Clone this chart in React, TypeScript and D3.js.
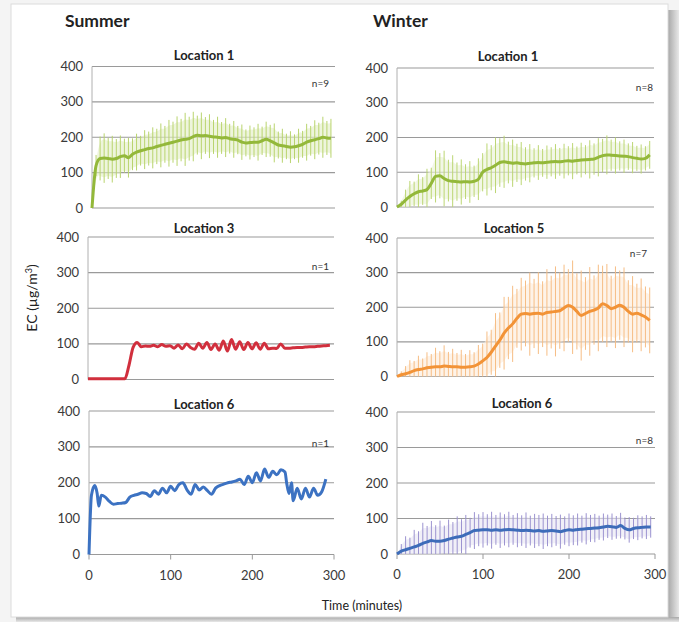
import React from "react";
import * as d3 from "d3";

// ---------- DATA ----------
const T = [0, 5, 10, 15, 20, 25, 30, 35, 40, 45, 50, 55, 60, 65, 70, 75, 80, 85, 90, 95,
  100, 105, 110, 115, 120, 125, 130, 135, 140, 145, 150, 155, 160, 165, 170, 175, 180, 185, 190, 195,
  200, 205, 210, 215, 220, 225, 230, 235, 240, 245, 250, 255, 260, 265, 270, 275, 280, 285, 290, 295];

const summerL1Mean = [0, 120, 140, 141, 140, 138, 140, 145, 148, 142, 152, 158, 162, 165, 168, 170, 174, 177, 180, 183,
  186, 189, 192, 194, 196, 202, 206, 204, 205, 203, 201, 200, 198, 199, 196, 194, 192, 186, 184, 185,
  186, 186, 190, 194, 190, 184, 178, 176, 174, 172, 173, 176, 180, 186, 190, 193, 196, 200, 198, 197];
const summerL1Err = [0, 30, 62, 70, 58, 66, 55, 60, 48, 56, 45, 52, 42, 55, 48, 58, 50, 62, 52, 66,
  58, 70, 60, 75, 62, 70, 55, 66, 52, 62, 48, 58, 45, 55, 42, 52, 40, 50, 38, 48,
  42, 52, 40, 50, 45, 55, 38, 48, 36, 45, 35, 48, 38, 52, 42, 55, 45, 58, 48, 55];

const winterL1Mean = [0, 8, 20, 30, 38, 44, 46, 50, 68, 88, 90, 82, 76, 74, 73, 72, 73, 72, 74, 80,
  100, 108, 113, 120, 128, 130, 128, 126, 127, 125, 124, 126, 127, 128, 127, 129, 130, 131, 130, 132,
  133, 132, 134, 135, 136, 137, 138, 143, 148, 150, 149, 148, 147, 146, 145, 142, 140, 138, 140, 150];
const winterL1Err = [0, 10, 30, 45, 35, 50, 40, 60, 45, 75, 65, 80, 60, 75, 55, 65, 50, 60, 45, 60,
  55, 75, 65, 80, 70, 75, 60, 68, 55, 62, 48, 55, 42, 50, 40, 48, 42, 50, 40, 50,
  42, 52, 40, 50, 42, 55, 45, 55, 48, 56, 45, 52, 42, 48, 38, 45, 36, 42, 35, 40];

const summerL3Values = [2, 2, 2, 2, 2, 2, 2, 2, 2, 2, 40, 90, 104, 92, 94, 93, 96, 92, 98, 93,
  95, 88, 97, 86, 100, 90, 85, 102, 88, 104, 84, 100, 82, 108, 80, 112, 85, 106, 84, 104,
  86, 103, 85, 102, 86, 88, 87, 100, 88, 88, 89, 90, 90, 91, 92, 92, 93, 94, 95, 96];

const winterL5Mean = [0, 5, 8, 12, 17, 20, 22, 25, 27, 28, 28, 30, 29, 28, 28, 27, 27, 28, 30, 36,
  45, 55, 70, 88, 105, 125, 140, 152, 168, 180, 182, 180, 182, 183, 180, 185, 186, 188, 190, 198,
  205, 200, 188, 176, 182, 188, 192, 198, 210, 205, 196, 200, 206, 200, 188, 180, 183, 178, 172, 162];
const winterL5Err = [0, 10, 22, 35, 28, 40, 30, 45, 38, 55, 45, 60, 42, 52, 40, 50, 38, 48, 40, 55,
  50, 75, 65, 95, 80, 105, 90, 110, 85, 105, 95, 120, 100, 118, 95, 125, 105, 130, 110, 125,
  105, 135, 110, 130, 105, 128, 100, 125, 110, 120, 95, 118, 100, 115, 90, 110, 85, 105, 88, 95];

const summerL6Time = [0, 3, 7, 10, 12, 15, 20, 25, 30, 35, 40, 45, 50, 55, 60, 65, 70, 75, 80, 85,
  90, 95, 100, 105, 110, 115, 120, 125, 130, 135, 140, 145, 150, 155, 160, 165, 170, 175, 180, 185,
  190, 195, 200, 205, 210, 215, 220, 225, 230, 235, 240, 242, 245, 248, 250, 255, 260, 265, 270, 275,
  280, 285, 290];
const summerL6Values = [0, 165, 192, 170, 135, 165, 160, 148, 140, 142, 143, 145, 160, 165, 168, 172, 170, 162, 178, 168,
  185, 172, 190, 178, 195, 200, 180, 168, 195, 180, 188, 178, 168, 185, 192, 196, 200, 202, 205, 210,
  195, 218, 200, 228, 205, 238, 215, 232, 222, 236, 230, 200, 170, 200, 150, 185, 155, 185, 160, 185,
  165, 175, 210];

const winterL6Mean = [0, 8, 12, 16, 20, 24, 30, 34, 38, 36, 36, 38, 42, 45, 48, 50, 55, 60, 66, 67,
  68, 68, 67, 68, 67, 68, 69, 68, 67, 66, 67, 66, 65, 66, 64, 65, 66, 65, 63, 66,
  68, 67, 69, 70, 71, 72, 73, 74, 76, 78, 77, 75, 80, 72, 68, 72, 74, 75, 76, 76];
const winterL6Err = [0, 20, 38, 30, 48, 40, 58, 45, 55, 45, 58, 42, 55, 45, 58, 48, 55, 42, 52, 45,
  50, 44, 52, 42, 50, 44, 50, 42, 48, 43, 50, 42, 48, 44, 50, 43, 47, 42, 48, 40,
  46, 42, 45, 38, 44, 38, 40, 34, 38, 33, 37, 32, 36, 31, 36, 30, 35, 31, 34, 30];

const yTicks = [0, 100, 200, 300, 400];
const xTicks = [0, 100, 200, 300];
const seasonLabels = ["Summer", "Winter"];

// ---------- LAYOUT ----------
const FONT = "Lato, 'Open Sans', 'DejaVu Sans', sans-serif";

type Panel = {
  title: string; n: string; x0: number; x1: number; yTop: number; yBot: number;
  time: number[]; mean: number[]; err?: number[];
  line: string; errColor?: string; band?: string; titleX: number; titleY: number;
  nX: number; nY: number; xAxis: boolean;
};

const panels: Panel[] = [
  { title: "Location 1", n: "n=9", x0: 92, x1: 335, yTop: 66.5, yBot: 208, time: T, mean: summerL1Mean, err: summerL1Err,
    line: "#93B83A", errColor: "#B9D46E", band: "#E2EEC4", titleX: 204, titleY: 60, nX: 329, nY: 87, xAxis: false },
  { title: "Location 1", n: "n=8", x0: 397, x1: 654, yTop: 68, yBot: 207, time: T, mean: winterL1Mean, err: winterL1Err,
    line: "#93B83A", errColor: "#BCD673", band: "#EAF2D6", titleX: 508, titleY: 61, nX: 653, nY: 91, xAxis: false },
  { title: "Location 3", n: "n=1", x0: 88, x1: 334, yTop: 237, yBot: 379.5, time: T, mean: summerL3Values,
    line: "#D12F3D", titleX: 204, titleY: 233, nX: 329, nY: 270, xAxis: false },
  { title: "Location 5", n: "n=7", x0: 397, x1: 654, yTop: 238, yBot: 376.5, time: T, mean: winterL5Mean, err: winterL5Err,
    line: "#F29337", errColor: "#F6BD84", band: "#FDEBD9", titleX: 514, titleY: 233, nX: 647, nY: 257, xAxis: false },
  { title: "Location 6", n: "n=1", x0: 89, x1: 334, yTop: 411, yBot: 554.5, time: summerL6Time, mean: summerL6Values,
    line: "#3C72C2", titleX: 204, titleY: 409, nX: 329, nY: 447, xAxis: true },
  { title: "Location 6", n: "n=8", x0: 397, x1: 655, yTop: 412, yBot: 554, time: T, mean: winterL6Mean, err: winterL6Err,
    line: "#3D6CB9", errColor: "#9C93D0", band: "#E8E6F4", titleX: 522, titleY: 408, nX: 653, nY: 444, xAxis: true },
];

function PanelView({ p }: { p: Panel }) {
  const x = d3.scaleLinear().domain([0, 300]).range([p.x0, p.x1]);
  const y = d3.scaleLinear().domain([0, 400]).range([p.yBot, p.yTop]);
  const idx = d3.range(p.time.length);
  const line = d3.line<number>().x(i => x(p.time[i])).y(i => y(p.mean[i])).curve(d3.curveMonotoneX);
  const err = p.err;
  const area = err
    ? d3.area<number>().x(i => x(p.time[i])).y0(i => y(Math.max(0, p.mean[i] - err[i] * 0.8))).y1(i => y(p.mean[i] + err[i] * 0.8)).curve(d3.curveBasis)
    : null;
  return (
    <g>
      {yTicks.map(t => (
        <line key={"g" + t} x1={p.x0} x2={p.x1} y1={y(t)} y2={y(t)} stroke="#9a9a9a" strokeWidth={1.1} />
      ))}
      <line x1={p.x0} x2={p.x0} y1={p.yTop} y2={p.yBot} stroke="#b0b0b0" strokeWidth={1} />
      {yTicks.map(t => (
        <text key={"l" + t} x={p.x0 - 9} y={y(t) + 4.5} textAnchor="end" fontSize={13} fill="#3a3a3a" fontFamily={FONT}>{t}</text>
      ))}
      {p.xAxis && xTicks.map(t => (
        <g key={"x" + t}>
          <line x1={x(t)} x2={x(t)} y1={p.yBot} y2={p.yBot + 5} stroke="#9a9a9a" strokeWidth={1} />
          <text x={x(t)} y={p.yBot + 25} textAnchor="middle" fontSize={13} fill="#3a3a3a" fontFamily={FONT}>{t}</text>
        </g>
      ))}
      {area && <path d={area(idx) || ""} fill={p.band} opacity={0.6} />}
      {err && idx.map(i => (
        <line key={"e" + i} x1={x(p.time[i])} x2={x(p.time[i])}
          y1={y(Math.max(0, p.mean[i] - err[i]))} y2={y(p.mean[i] + err[i])}
          stroke={p.errColor} strokeWidth={1} />
      ))}
      <path d={line(idx) || ""} fill="none" stroke={p.line} strokeWidth={3} strokeLinejoin="round" />
      <text x={p.titleX} y={p.titleY} textAnchor="middle" fontSize={13} fontWeight="bold" fill="#222" fontFamily={FONT}>{p.title}</text>
      <text x={p.nX} y={p.nY} textAnchor="end" fontSize={10} fill="#333" fontFamily={FONT}>{p.n}</text>
    </g>
  );
}

export default function App() {
  return (
    <div style={{ position: "fixed", left: 0, top: 0 }}>
      <svg width={679} height={622} style={{ display: "block" }}>
        <defs>
          <linearGradient id="shR" x1="0" x2="1" y1="0" y2="0">
            <stop offset="0" stopColor="#a8a8a8" />
            <stop offset="1" stopColor="#e8e8e8" />
          </linearGradient>
          <linearGradient id="shB" x1="0" x2="0" y1="0" y2="1">
            <stop offset="0" stopColor="#a8a8a8" />
            <stop offset="1" stopColor="#e8e8e8" />
          </linearGradient>
        </defs>
        <rect x={0} y={0} width={679} height={622} fill="#f4f4f4" />
        <rect x={668} y={10} width={11} height={612} fill="url(#shR)" />
        <rect x={16} y={617} width={663} height={5} fill="url(#shB)" />
        <rect x={11} y={4} width={657} height={613} fill="#ffffff" stroke="#dcdcdc" strokeWidth={1} />
        <text x={65} y={27} fontSize={17.5} fontWeight="bold" fill="#222" fontFamily={FONT}>{seasonLabels[0]}</text>
        <text x={373} y={27} fontSize={17.5} fontWeight="bold" fill="#222" fontFamily={FONT}>{seasonLabels[1]}</text>
        {panels.map((p, i) => <PanelView key={i} p={p} />)}
        <text transform="translate(37,298) rotate(-90)" textAnchor="middle" fontSize={14} fill="#222" fontFamily={FONT}>
          EC (µg/m<tspan baselineShift="super" fontSize={9}>3</tspan>)
        </text>
        <text x={362} y={610} textAnchor="middle" fontSize={12.5} fill="#222" fontFamily={FONT}>Time (minutes)</text>
      </svg>
    </div>
  );
}
